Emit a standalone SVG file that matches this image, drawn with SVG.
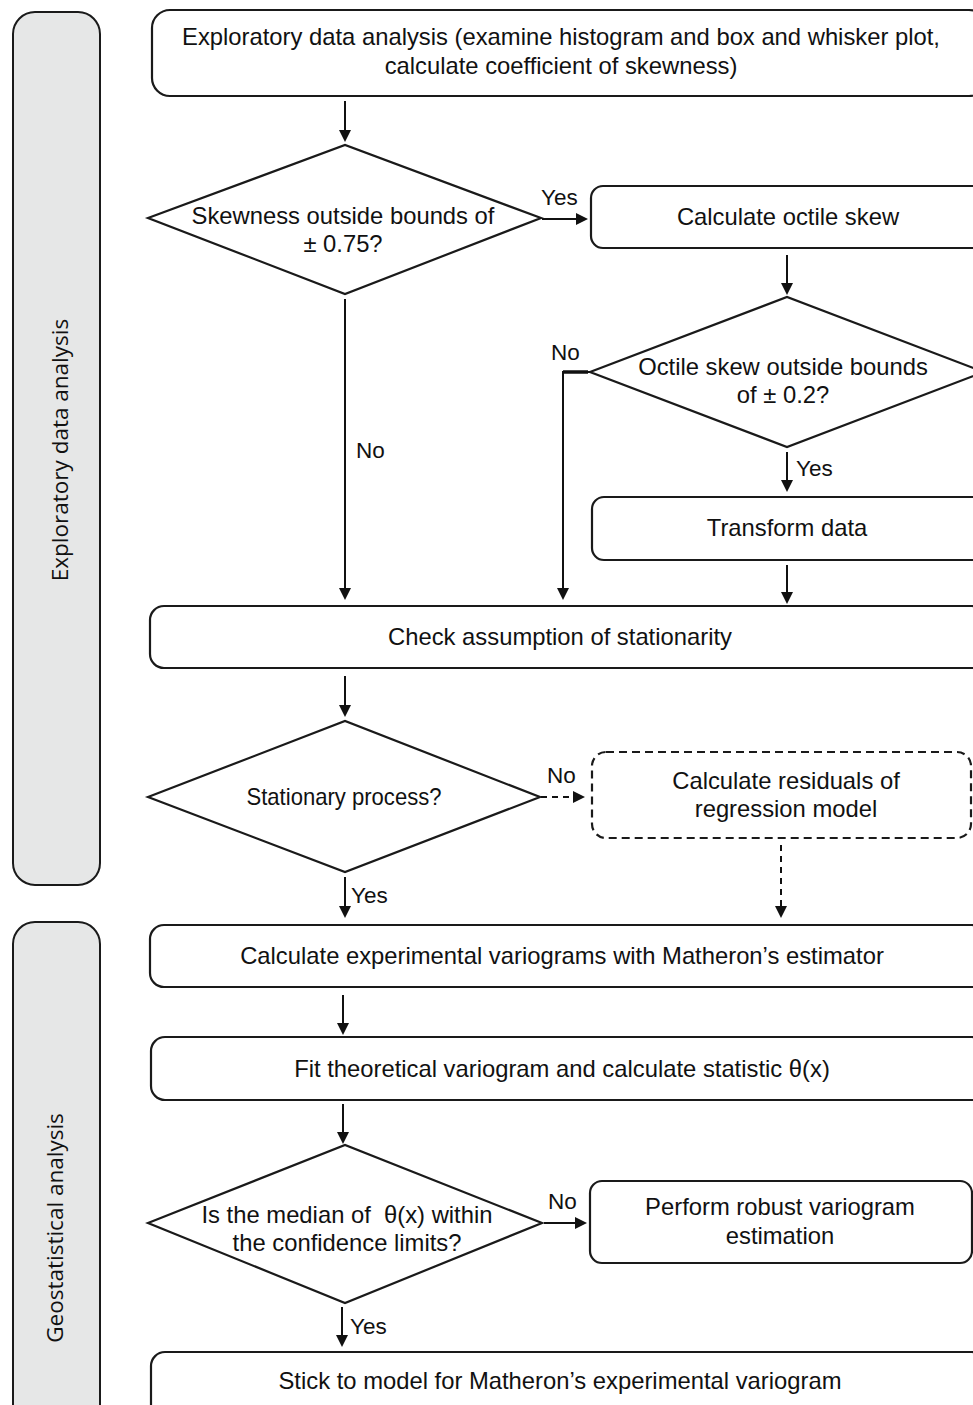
<svg xmlns="http://www.w3.org/2000/svg" width="973" height="1405" viewBox="0 0 973 1405">
<style>
.box{fill:#fff;stroke:#1a1a1a;stroke-width:2.2}
.dbox{fill:#fff;stroke:#1a1a1a;stroke-width:2.2;stroke-dasharray:8 5}
.panel{fill:#e6e7e7;stroke:#1a1a1a;stroke-width:2}
.t{font-family:"Liberation Sans",Arial,sans-serif;font-size:23.8px;fill:#111;text-anchor:middle}
.pt{font-family:"Open Sans","Noto Sans",sans-serif;font-size:22.5px;fill:#111;text-anchor:middle}
.lbl{font-family:"Liberation Sans",Arial,sans-serif;font-size:22.5px;fill:#111}
.c{fill:none;stroke:#111;stroke-width:2}
.cd{fill:none;stroke:#111;stroke-width:2;stroke-dasharray:6 5}
</style>
<defs>
<marker id="ah" markerWidth="12" markerHeight="12" refX="10" refY="6" orient="auto" markerUnits="userSpaceOnUse">
<path d="M0,0 L12,6 L0,12 Z" fill="#111"/>
</marker>
</defs>
<rect width="973" height="1405" fill="#fff"/>
<g id="panel-eda">
<rect class="panel" x="13" y="12" width="87" height="873" rx="22"/>
<text class="pt" transform="translate(68,450) rotate(-90)">Exploratory data analysis</text>
</g>
<g id="panel-geo">
<rect class="panel" x="13" y="922" width="87" height="520" rx="22"/>
<text class="pt" transform="translate(63,1228) rotate(-90)">Geostatistical analysis</text>
</g>
<g id="n-eda">
<rect class="box" x="152" y="10" width="835" height="86" rx="18"/>
<text class="t" x="561" y="45">Exploratory data analysis (examine histogram and box and whisker plot,</text>
<text class="t" x="561" y="74">calculate coefficient of skewness)</text>
</g>
<g id="n-skew">
<polygon class="box" points="148,218 345,145 541,218 345,294"/>
<text class="t" x="343" y="224">Skewness outside bounds of</text>
<text class="t" x="343" y="252">± 0.75?</text>
</g>
<g id="n-octile">
<rect class="box" x="591" y="186" width="395" height="62" rx="12"/>
<text class="t" x="788" y="225">Calculate octile skew</text>
</g>
<g id="n-octdec">
<polygon class="box" points="590,372 787,297 984,372 787,447"/>
<text class="t" x="783" y="375">Octile skew outside bounds</text>
<text class="t" x="783" y="403">of ± 0.2?</text>
</g>
<g id="n-transform">
<rect class="box" x="592" y="497" width="394" height="63" rx="12"/>
<text class="t" x="787" y="536">Transform data</text>
</g>
<g id="n-check">
<rect class="box" x="150" y="606" width="836" height="62" rx="14"/>
<text class="t" x="560" y="645">Check assumption of stationarity</text>
</g>
<g id="n-stat">
<polygon class="box" points="148,797 345,721 540,797 345,872"/>
<text class="t" x="344" y="805" textLength="195" lengthAdjust="spacingAndGlyphs">Stationary process?</text>
</g>
<g id="n-resid">
<rect class="dbox" x="592" y="752" width="379" height="86" rx="14"/>
<text class="t" x="786" y="789">Calculate residuals of</text>
<text class="t" x="786" y="817">regression model</text>
</g>
<g id="n-expvar">
<rect class="box" x="150" y="925" width="836" height="62" rx="14"/>
<text class="t" x="562" y="964">Calculate experimental variograms with Matheron’s estimator</text>
</g>
<g id="n-fit">
<rect class="box" x="151" y="1037" width="835" height="63" rx="14"/>
<text class="t" x="562" y="1077">Fit theoretical variogram and calculate statistic θ(x)</text>
</g>
<g id="n-median">
<polygon class="box" points="148,1223 345,1145 542,1223 345,1303"/>
<text class="t" x="347" y="1223" xml:space="preserve">Is the median of  θ(x) within</text>
<text class="t" x="347" y="1251">the confidence limits?</text>
</g>
<g id="n-robust">
<rect class="box" x="590" y="1181" width="382" height="82" rx="12"/>
<text class="t" x="780" y="1215">Perform robust variogram</text>
<text class="t" x="780" y="1244">estimation</text>
</g>
<g id="n-stick">
<rect class="box" x="151" y="1352" width="835" height="80" rx="14"/>
<text class="t" x="560" y="1389">Stick to model for Matheron’s experimental variogram</text>
</g>
<g id="connectors">
<line class="c" x1="345" y1="101" x2="345" y2="140" marker-end="url(#ah)"/>
<line class="c" x1="542" y1="219" x2="586" y2="219" marker-end="url(#ah)"/>
<text class="lbl" x="541" y="205">Yes</text>
<line class="c" x1="787" y1="255" x2="787" y2="293" marker-end="url(#ah)"/>
<line class="c" x1="345" y1="299" x2="345" y2="598" marker-end="url(#ah)"/>
<text class="lbl" x="356" y="458">No</text>
<path class="c" d="M590,372 L563,372 L563,598" marker-end="url(#ah)"/>
<line x1="563" y1="372" x2="588" y2="372" stroke="#111" stroke-width="3.5"/>
<text class="lbl" x="551" y="360">No</text>
<line class="c" x1="787" y1="452" x2="787" y2="490" marker-end="url(#ah)"/>
<text class="lbl" x="796" y="476">Yes</text>
<line class="c" x1="787" y1="565" x2="787" y2="602" marker-end="url(#ah)"/>
<line class="c" x1="345" y1="676" x2="345" y2="715" marker-end="url(#ah)"/>
<line class="cd" x1="541" y1="797" x2="583" y2="797" marker-end="url(#ah)"/>
<text class="lbl" x="547" y="783">No</text>
<line class="cd" x1="781" y1="845" x2="781" y2="916" marker-end="url(#ah)"/>
<line class="c" x1="345" y1="877" x2="345" y2="916" marker-end="url(#ah)"/>
<text class="lbl" x="351" y="903">Yes</text>
<line class="c" x1="343" y1="995" x2="343" y2="1033" marker-end="url(#ah)"/>
<line class="c" x1="343" y1="1104" x2="343" y2="1142" marker-end="url(#ah)"/>
<line class="c" x1="544" y1="1223" x2="585" y2="1223" marker-end="url(#ah)"/>
<text class="lbl" x="548" y="1209">No</text>
<line class="c" x1="342" y1="1307" x2="342" y2="1345" marker-end="url(#ah)"/>
<text class="lbl" x="350" y="1334">Yes</text>
</g>
</svg>
